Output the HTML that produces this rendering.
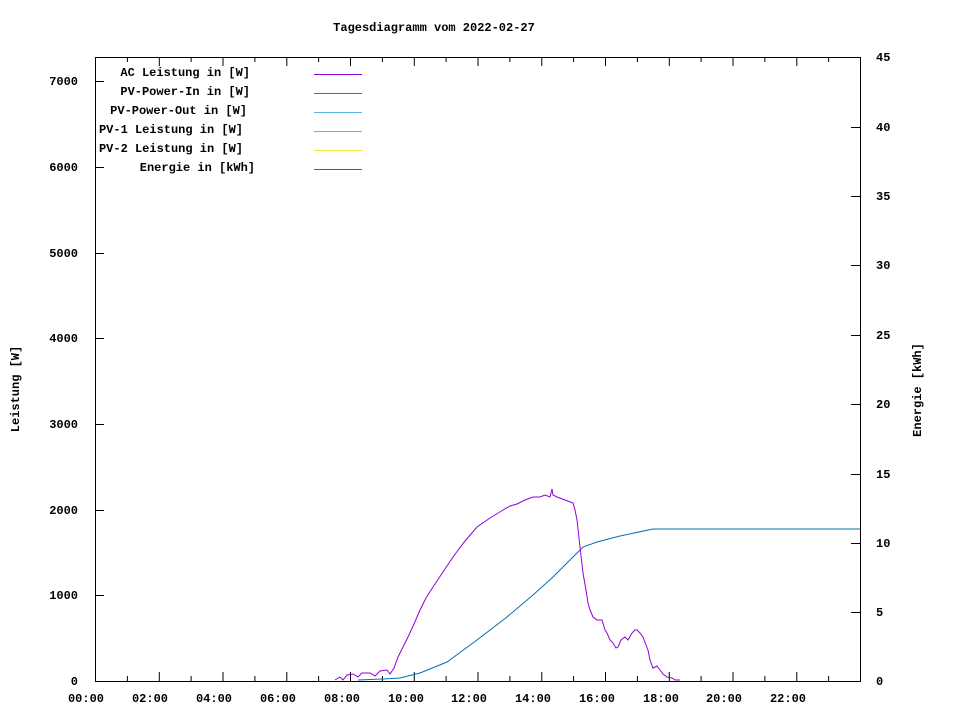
<!DOCTYPE html>
<html><head><meta charset="utf-8"><style>
body{margin:0;background:#fff}
text{font-family:"Liberation Mono","DejaVu Sans Mono",monospace;font-size:12px;font-weight:bold;fill:#000}
</style></head><body>
<svg width="960" height="720" xmlns="http://www.w3.org/2000/svg">
<rect width="960" height="720" fill="#fff"/>
<text x="434" y="31" text-anchor="middle">Tagesdiagramm vom 2022-02-27</text>
<rect x="95.5" y="57.5" width="765" height="624" fill="none" stroke="#000" stroke-width="1"/>
<g stroke="#000" stroke-width="1" id="ticks">
<!-- left major y ticks -->
<path d="M95 595.5h9M95 510.5h9M95 424.5h9M95 338.5h9M95 253.5h9M95 167.5h9M95 81.5h9"/>
<!-- right ticks -->
<path d="M860 612.5h-9M860 543.5h-9M860 474.5h-9M860 404.5h-9M860 335.5h-9M860 265.5h-9M860 196.5h-9M860 127.5h-9"/>
<!-- x ticks -->
<path d="M127.4 681v-5M159.3 681v-9M191.1 681v-5M223 681v-9M254.9 681v-5M286.8 681v-9M318.6 681v-5M350.5 681v-9M382.4 681v-5M414.3 681v-9M446.1 681v-5M478 681v-9M509.9 681v-5M541.8 681v-9M573.6 681v-5M605.5 681v-9M637.4 681v-5M669.3 681v-9M701.1 681v-5M733 681v-9M764.9 681v-5M796.8 681v-9M828.6 681v-5"/>
<path d="M127.4 57v5M159.3 57v9M191.1 57v5M223 57v9M254.9 57v5M286.8 57v9M318.6 57v5M350.5 57v9M382.4 57v5M414.3 57v9M446.1 57v5M478 57v9M509.9 57v5M541.8 57v9M573.6 57v5M605.5 57v9M637.4 57v5M669.3 57v9M701.1 57v5M733 57v9M764.9 57v5M796.8 57v9M828.6 57v5"/>
</g>
<g text-anchor="end">
<text x="78" y="685">0</text><text x="78" y="599">1000</text><text x="78" y="514">2000</text><text x="78" y="428">3000</text><text x="78" y="342">4000</text><text x="78" y="257">5000</text><text x="78" y="171">6000</text><text x="78" y="85">7000</text>
</g>
<g text-anchor="start">
<text x="876" y="685">0</text><text x="876" y="616">5</text><text x="876" y="547">10</text><text x="876" y="478">15</text><text x="876" y="408">20</text><text x="876" y="339">25</text><text x="876" y="269">30</text><text x="876" y="200">35</text><text x="876" y="131">40</text><text x="876" y="61">45</text>
</g>
<g text-anchor="middle">
<text x="86" y="702">00:00</text><text x="150" y="702">02:00</text><text x="214" y="702">04:00</text><text x="278" y="702">06:00</text><text x="342" y="702">08:00</text><text x="406" y="702">10:00</text><text x="469" y="702">12:00</text><text x="533" y="702">14:00</text><text x="597" y="702">16:00</text><text x="661" y="702">18:00</text><text x="724" y="702">20:00</text><text x="788" y="702">22:00</text>
</g>
<text transform="translate(19,389) rotate(-90)" text-anchor="middle">Leistung [W]</text>
<text transform="translate(921,390) rotate(-90)" text-anchor="middle">Energie [kWh]</text>
<g text-anchor="end">
<text x="250" y="76">AC Leistung in [W]</text>
<text x="250" y="95">PV-Power-In in [W]</text>
<text x="247" y="114">PV-Power-Out in [W]</text>
<text x="243" y="133">PV-1 Leistung in [W]</text>
<text x="243" y="152">PV-2 Leistung in [W]</text>
<text x="255" y="171">Energie in [kWh]</text>
</g>
<g stroke-width="1">
<path d="M314 74.5h48" stroke="#9400d3"/>
<path d="M314 93.5h48" stroke="#009e73"/>
<path d="M314 112.5h48" stroke="#56b4e9"/>
<path d="M314 131.5h48" stroke="#e69f00"/>
<path d="M314 150.5h48" stroke="#f0e442"/>
<path d="M314 169.5h48" stroke="#0072b2"/>
</g>
<polyline fill="none" stroke="#0072b2" stroke-width="1" points="358,680 383,679 400,678 420,673 447,662 477,640 507,617 533,595 553,577 573,557 583,547 597,542 620,536 653,529 860,529"/>
<polyline fill="none" stroke="#9400d3" stroke-width="1" points="335,680 340,677 343,680 347,675 353,674 358,677 362,673 370,673 375,676 380,671 387,670 390,674 394,668 398,657 403,647 408,637 414,624 420,610 426,598 433,587 443,572 453,557 465,541 477,527 490,518 503,510 510,506 517,504 525,500 533,497 540,497 545,495 550,497 552,489 553,495 557,497 565,500 573,503 575,510 577,520 580,547 583,573 586,590 588,603 590,610 593,617 597,620 602,620 605,630 607,633 610,640 613,643 616,648 618,647 621,640 625,637 628,640 632,633 635,630 637,630 640,633 643,637 646,645 648,650 650,660 653,668 657,666 660,670 663,674 667,677 672,678 675,680 680,680"/>
</svg>
</body></html>
